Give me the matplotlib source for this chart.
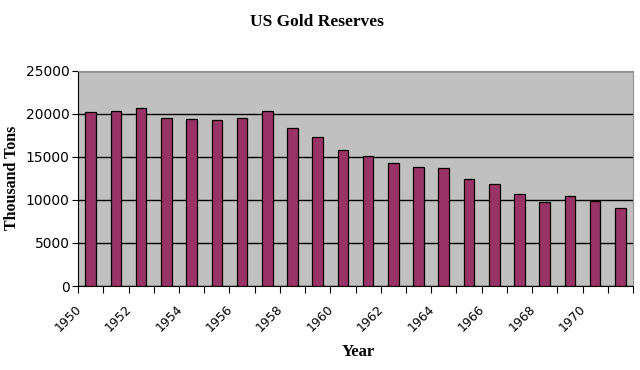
import matplotlib
matplotlib.use("Agg")
import matplotlib.pyplot as plt
import matplotlib.transforms as mtransforms
import numpy as np

# values
years = list(range(1950, 1972))
reserves = [20200, 20350, 20650, 19500, 19400, 19250, 19500, 20350, 18300, 17350,
            15750, 15100, 14300, 13850, 13700, 12450, 11800, 10650, 9700, 10500,
            9900, 9100]
yticks = [0, 5000, 10000, 15000, 20000, 25000]
xlabels = [str(y) for y in years[::2]]

fig = plt.figure(figsize=(6.4, 3.7), dpi=100)
ax = fig.add_axes([0.122, 0.227, 0.867, 0.582])
ax.set_facecolor("#c0c0c0")

x = np.arange(len(years))
ax.bar(x, reserves, width=0.42, color="#993366", edgecolor="black", linewidth=0.9, zorder=3)

ax.set_xlim(-0.5, len(years) - 0.5)
ax.set_ylim(0, 25000)
ax.set_yticks(yticks)
ax.set_yticklabels([str(v) for v in yticks], fontsize=10, family="DejaVu Sans")
ax.yaxis.grid(True, color="black", linewidth=1.0, zorder=1)
ax.tick_params(axis="y", length=4, width=0.8, pad=2)

# labels at category centres, tick marks between categories
ax.set_xticks(x[::2])
ax.set_xticklabels(xlabels, rotation=45, ha="right", rotation_mode="anchor",
                   fontsize=9, family="DejaVu Sans")
ax.tick_params(axis="x", which="major", length=0, pad=10)
ax.set_xticks(np.arange(-0.5, len(years)), minor=True)
ax.tick_params(axis="x", which="minor", length=5, width=0.8)

# nudge rotated labels left, like the spreadsheet does
shift = mtransforms.ScaledTranslation(-0.16, -0.03, fig.dpi_scale_trans)
for lbl in ax.get_xticklabels():
    lbl.set_transform(lbl.get_transform() + shift)

for side in ["top", "right"]:
    ax.spines[side].set_color("#909090")
ax.spines["left"].set_color("black")
ax.spines["bottom"].set_color("black")

serif = ["Liberation Serif", "DejaVu Serif"]
fig.text(0.495, 0.94, "US Gold Reserves", ha="center", va="center",
         fontsize=12.5, fontweight="bold", family=serif)
ax.set_ylabel("Thousand Tons", fontsize=11.5, fontweight="bold", family=serif, labelpad=4)
fig.text(0.560, 0.048, "Year", ha="center", va="center",
         fontsize=12, fontweight="bold", family=serif)

fig.savefig("out.png", dpi=100)
